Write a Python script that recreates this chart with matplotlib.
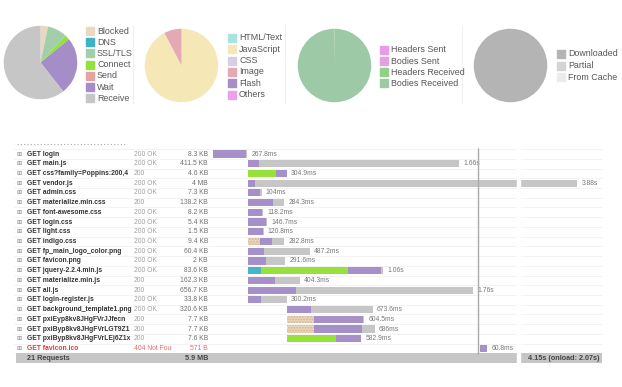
import matplotlib
matplotlib.use('Agg')
import matplotlib.pyplot as plt
from matplotlib.lines import Line2D
from matplotlib.patches import Rectangle
from matplotlib.transforms import blended_transform_factory

plt.rcParams['font.family'] = ['Liberation Sans', 'DejaVu Sans']

W, H = 622, 387

# --- summary pies -----------------------------------------------------------
timing_labels = ['Blocked', 'DNS', 'SSL/TLS', 'Connect', 'Send', 'Wait', 'Receive']
timing_share = [3.3, 0, 8.6, 2.2, 0, 25.3, 60.6]
timing_colors = ['#e9d8bf', '#3fb3c6', '#a2cfaa', '#90e23c', '#e6a3a0', '#a58dc8', '#c6c6c6']

type_labels = ['HTML/Text', 'JavaScript', 'CSS', 'Image', 'Flash', 'Others']
type_share = [0, 92.3, 0, 7.7, 0, 0]
type_colors = ['#a9e3df', '#f6e8b6', '#d9cde3', '#e4a9b2', '#a58dc8', '#eba0e8']

traffic_labels = ['Headers Sent', 'Bodies Sent', 'Headers Received', 'Bodies Received']
traffic_share = [0, 0, 0.2, 99.8]
traffic_colors = ['#e89be6', '#e4a0e2', '#93d087', '#9ec9a6']

cache_labels = ['Downloaded', 'Partial', 'From Cache']
cache_share = [100, 0, 0]
cache_colors = ['#b4b4b4', '#d4d4d4', '#ebebeb']

# --- waterfall ----------------------------------------------------------------
# long urls are cut where the column ends, as in the screenshot
names = ['GET login', 'GET main.js', 'GET css?family=Poppins:200,4',
         'GET vendor.js', 'GET admin.css', 'GET materialize.min.css',
         'GET font-awesome.css', 'GET login.css', 'GET light.css',
         'GET indigo.css', 'GET fp_main_logo_color.png', 'GET favicon.png',
         'GET jquery-2.2.4.min.js', 'GET materialize.min.js', 'GET all.js',
         'GET login-register.js', 'GET background_template1.png',
         'GET pxiEyp8kv8JHgFVrJJfecn', 'GET pxiByp8kv8JHgFVrLGT9Z1',
         'GET pxiByp8kv8JHgFVrLEj6Z1x', 'GET favicon.ico']
status = ['200 OK', '200 OK', '200', '200 OK', '200 OK', '200', '200 OK',
          '200 OK', '200 OK', '200 OK', '200 OK', '200 OK', '200 OK', '200',
          '200', '200 OK', '200 OK', '200', '200', '200', '404 Not Fou']
sizes = ['8.3 KB', '411.5 KB', '4.6 KB', '4 MB', '7.3 KB', '138.2 KB',
         '8.2 KB', '5.4 KB', '1.5 KB', '9.4 KB', '60.4 KB', '2 KB', '83.6 KB',
         '162.3 KB', '656.7 KB', '33.8 KB', '320.6 KB', '7.7 KB', '7.7 KB',
         '7.6 KB', '571 B']
durations = ['267.8ms', '1.66s', '304.9ms', '3.88s', '104ms', '284.3ms',
             '118.2ms', '146.7ms', '120.8ms', '282.8ms', '487.2ms', '291.6ms',
             '1.06s', '404.3ms', '1.76s', '300.2ms', '673.6ms', '604.5ms',
             '686ms', '582.9ms', '60.8ms']

# timings in ms, as drawn
start_ms = [0, 276, 276, 276, 276, 276, 276, 276, 276, 276, 276, 276, 276,
            276, 276, 276, 583, 583, 583, 583, 2095]
blocked_ms = [0, 0, 0, 0, 0, 0, 0, 0, 0, 92, 0, 0, 0, 0, 0, 0, 0, 210, 210, 0, 0]
dns_ms = [0, 0, 0, 0, 0, 0, 0, 0, 0, 0, 0, 0, 97, 0, 0, 0, 0, 0, 0, 0, 0]
connect_ms = [0, 0, 218, 0, 0, 0, 0, 0, 0, 0, 0, 0, 685, 0, 0, 0, 0, 0, 0, 386, 0]
wait_ms = [260, 87, 87, 55, 92, 194, 105, 137, 113, 92, 124, 137, 262, 210,
           373, 100, 184, 386, 378, 197, 61]
receive_ms = [8, 1573, 0, 2533, 12, 90, 13, 10, 8, 99, 363, 155, 18, 194,
              1394, 200, 490, 8, 98, 0, 0]

total_requests = '21 Requests'
total_size = '5.9 MB'
total_time = '4.15s (onload: 2.07s)'
onload_ms = 2085

bar_colors = {'blocked': '#ecd9c0', 'dns': '#47b5c8', 'connect': '#97e23a',
              'wait': '#a690c9', 'receive': '#c6c6c6'}

X0, PX_PER_MS = 213.3, 0.1271
ROW0, ROW_H = 154, 9.725


def fx(x):
    return x / W


def fy(y):
    return 1 - y / H


def ms(x):
    return (x - X0) / PX_PER_MS


fig = plt.figure(figsize=(W / 100, H / 100), dpi=100)
fig.patch.set_facecolor('white')


def pie(cx, cy, values, colors):
    r = 37.5
    ax = fig.add_axes([fx(cx - r), fy(cy + r), 2 * r / W, 2 * r / H])
    ax.pie(values, colors=colors, startangle=90, counterclock=False,
           radius=1, wedgeprops={'linewidth': 0})
    ax.set_xlim(-1.02, 1.02)
    ax.set_ylim(-1.02, 1.02)
    ax.axis('off')


def legend(sx, y0, dy, labels, colors):
    for i, (lab, c) in enumerate(zip(labels, colors)):
        y = y0 + i * dy
        fig.patches.append(Rectangle((fx(sx), fy(y + 4)), 8 / W, 8 / H,
                                     transform=fig.transFigure, color=c))
        fig.text(fx(sx + 11), fy(y), lab, va='center', ha='left',
                 fontsize=6.4, color='#555555')


pie(40.5, 62.5, timing_share, timing_colors)
legend(86, 31, 11.2, timing_labels, timing_colors)
pie(181.5, 65.5, type_share, type_colors)
legend(228, 38, 11.3, type_labels, type_colors)
pie(334.5, 65.5, traffic_share, traffic_colors)
legend(380, 50, 11.1, traffic_labels, traffic_colors)
pie(510.5, 65.5, cache_share, cache_colors)
legend(557, 54, 11.5, cache_labels, cache_colors)

for xs in (133, 285, 462):
    fig.add_artist(Line2D([fx(xs), fx(xs)], [fy(25), fy(103)],
                          color='#f0f0f0', lw=0.8))

# waterfall table
top, bottom = 144, 368
ax = fig.add_axes([0, fy(bottom), 1, (bottom - top) / H])
ax.set_xlim(ms(0), ms(W))
ax.set_ylim((bottom - ROW0) / ROW_H, (top - ROW0) / ROW_H)
ax.axis('off')

n = len(names)
for i in range(-1, n):
    ax.hlines(i + 0.5, ms(14), ms(602), color='#eeeeee', lw=0.5, zorder=1)

for i in range(n):
    left = start_ms[i]
    for key, seg in (('blocked', blocked_ms), ('dns', dns_ms),
                     ('connect', connect_ms), ('wait', wait_ms),
                     ('receive', receive_ms)):
        d = seg[i]
        if d <= 0:
            continue
        if key == 'blocked':
            ax.barh(i, d, left=left, height=0.74, color=bar_colors[key],
                    edgecolor='#d2b48f', linewidth=0, hatch='......', zorder=2)
        else:
            ax.barh(i, d, left=left, height=0.74, color=bar_colors[key],
                    linewidth=0, zorder=2)
        left += d
    ax.text(left + 4 / PX_PER_MS, i, durations[i], fontsize=4.9,
            color='#777777', va='center', ha='left', zorder=3)

ax.vlines(onload_ms, -0.62, 20.6, color='#aaaaaa', lw=1.0, zorder=4)

# totals row
ax.add_patch(Rectangle((ms(16), n - 0.5), ms(602) - ms(16), 0.98,
                       color='#c6c6c6', linewidth=0, zorder=2))
ax.axvspan(ms(517), ms(520), color='white', zorder=5)

tr = blended_transform_factory(fig.transFigure, ax.transData)
for i in range(n):
    err = status[i].startswith('404')
    c_main = '#e03a3a' if err else '#333333'
    c_soft = '#e86a6a' if err else '#a0a0a0'
    c_size = '#e86a6a' if err else '#707070'
    ax.text(fx(19), i, '\u229e', transform=tr, fontsize=4.5, color='#888888',
            family='DejaVu Sans', va='center', ha='center')
    ax.text(fx(27), i, names[i], transform=tr, fontsize=4.9,
            fontweight='bold', color=c_main, va='center', ha='left')
    ax.text(fx(134), i, status[i], transform=tr, fontsize=4.9,
            color=c_soft, va='center', ha='left')
    ax.text(fx(208), i, sizes[i], transform=tr, fontsize=4.9,
            color=c_size, va='center', ha='right')

ax.text(fx(27), n, total_requests, transform=tr, fontsize=5.2,
        fontweight='bold', color='#444444', va='center', ha='left', zorder=6)
ax.text(fx(208), n, total_size, transform=tr, fontsize=5.2,
        fontweight='bold', color='#444444', va='center', ha='right', zorder=6)
ax.text(fx(600), n, total_time, transform=tr, fontsize=5.2,
        fontweight='bold', color='#444444', va='center', ha='right', zorder=6)

# dotted header rule
fig.add_artist(Line2D([fx(17), fx(125)], [fy(144), fy(144)], color='#aaaaaa',
                      lw=0.8, linestyle=(0, (1, 2))))

fig.savefig('out.png', dpi=100, facecolor='white')
